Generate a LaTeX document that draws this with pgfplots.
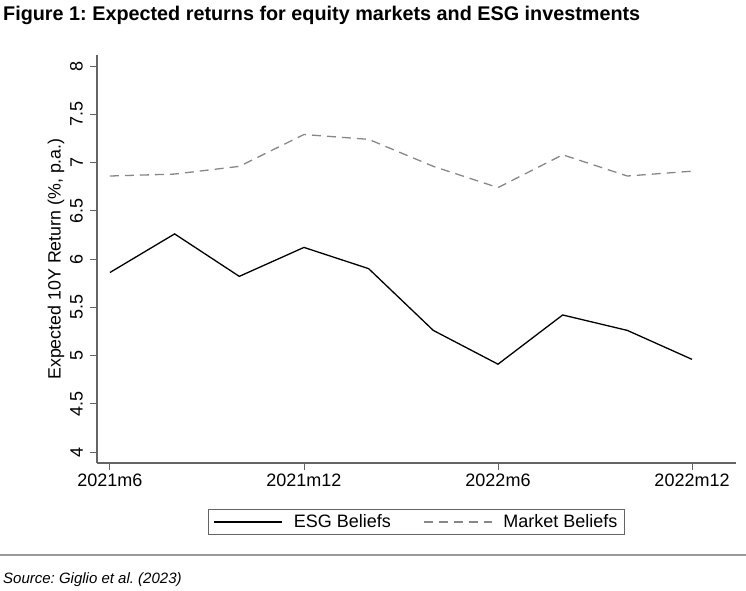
\documentclass[border=0pt]{standalone}
\usepackage{fontspec}
\setmainfont{Liberation Sans}
\usepackage{pgfplots}
\pgfplotsset{compat=1.18}

\definecolor{axgray}{RGB}{100,100,100}
\definecolor{mktgray}{RGB}{135,135,135}

\frenchspacing
\begin{document}
\begin{tikzpicture}[x=1pt,y=1pt]
\useasboundingbox (0,0) rectangle (746,590);
\node[anchor=base west,inner sep=0pt,font=\fontsize{19.8}{24}\selectfont\bfseries] at (3,569)
  {Figure 1: Expected returns for equity markets and ESG investments};
\begin{axis}[
    at={(97pt,127pt)}, anchor=south west,
    scale only axis, width=639pt, height=408pt,
    xmin=-0.4, xmax=19.36, ymin=3.886, ymax=8.114,
    axis x line*=bottom, axis y line*=left,
    axis line style={axgray, line width=1.1pt, -},
    tick style={axgray, line width=0.9pt},
    tick align=outside, major tick length=7pt,
    xtick={0,6,12,18},
    xticklabels={2021m6,2021m12,2022m6,2022m12},
    ytick={4,4.5,...,8},
    yticklabels={4,4.5,5,5.5,6,6.5,7,7.5,8},
    yticklabel style={rotate=90, anchor=south, inner sep=3pt},
    yticklabel shift=4pt,
    ticklabel style={font=\fontsize{18}{22}\selectfont},
    /pgf/number format/assume math mode=true,
    ylabel={Expected 10Y Return (\%, p.a.)},
    ylabel style={at={(axis description cs:-0.0640,0.5)}, anchor=center,
      font=\fontsize{17.8}{21}\selectfont},
    legend style={at={(0.5,-0.1446)}, anchor=center, legend columns=2,
      draw=axgray, line width=0.9pt, font=\fontsize{18}{22}\selectfont,
      inner xsep=5pt, inner ysep=3pt,
      /tikz/every odd column/.append style={column sep=9pt},
      /tikz/every even column/.append style={column sep=30pt}},
    legend image code/.code={\draw[#1] (0pt,0pt) -- (68pt,0pt);},
    clip=false,
]
\addplot[black, line width=1.3pt] coordinates {
  (0,5.86) (2,6.26) (4,5.82) (6,6.12) (8,5.90)
  (10,5.26) (12,4.91) (14,5.42) (16,5.26) (18,4.96)};
\addplot[mktgray, line width=1.3pt, dash pattern=on 9pt off 6pt] coordinates {
  (0,6.86) (2,6.88) (4,6.96) (6,7.29) (8,7.24)
  (10,6.96) (12,6.74) (14,7.08) (16,6.86) (18,6.91)};
\legend{ESG Beliefs, Market Beliefs}
\end{axis}
\draw[black!40, line width=1.4pt] (0,35) -- (746,35);
\node[anchor=base west,inner sep=0pt,font=\fontsize{15}{18}\selectfont\itshape] at (3,7)
  {Source: Giglio et al. (2023)};
\end{tikzpicture}
\end{document}
